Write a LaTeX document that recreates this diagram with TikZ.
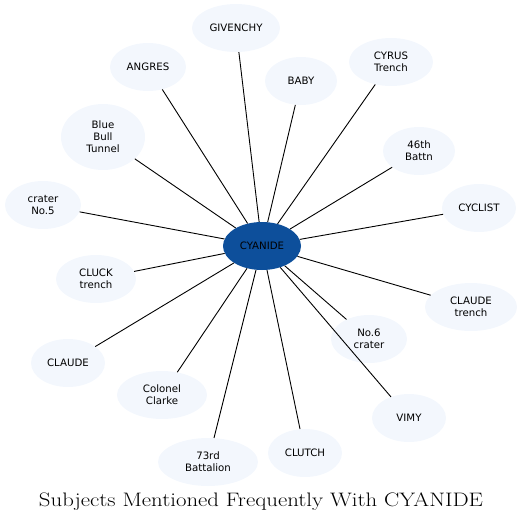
\documentclass[tikz,border=0pt]{standalone}
\usepackage{fontspec}
\setmainfont{Latin Modern Roman}
\newfontfamily\nodefont{DejaVu Sans}
\usetikzlibrary{shapes.geometric}
\definecolor{centerblue}{HTML}{0D4F9B}
\definecolor{leafblue}{HTML}{F3F7FD}
\tikzset{
  leaf/.style={ellipse, fill=leafblue, inner sep=0pt, align=center,
    font=\nodefont\fontsize{10.2}{12}\selectfont, text=black},
  hub/.style={leaf, fill=centerblue},
  link/.style={draw=black, line width=0.9pt}
}
\begin{document}
\begin{tikzpicture}[x=1pt,y=-1pt]
\useasboundingbox (0,0) rectangle (523,523);
\node[hub, minimum width=78pt, minimum height=48pt] (c) at (262,246) {CYANIDE};
\node[leaf, minimum width=88pt, minimum height=48pt] (givenchy) at (236,28) {GIVENCHY};
\node[leaf, minimum width=76pt, minimum height=48pt] (angres) at (148,67) {ANGRES};
\node[leaf, minimum width=72pt, minimum height=48pt] (baby) at (301,81) {BABY};
\node[leaf, minimum width=84pt, minimum height=48pt] (cyrus) at (391,62) {CYRUS\\Trench};
\node[leaf, minimum width=84pt, minimum height=66pt] (blue) at (103,137) {Blue\\Bull\\Tunnel};
\node[leaf, minimum width=72pt, minimum height=48pt] (b46) at (419,151) {46th\\Battn};
\node[leaf, minimum width=76pt, minimum height=48pt] (c5) at (43,205) {crater\\No.5};
\node[leaf, minimum width=74pt, minimum height=48pt] (cyclist) at (479,208) {CYCLIST};
\node[leaf, minimum width=80pt, minimum height=48pt] (cluck) at (96,279) {CLUCK\\trench};
\node[leaf, minimum width=92pt, minimum height=48pt] (claudet) at (471,307) {CLAUDE\\trench};
\node[leaf, minimum width=76pt, minimum height=48pt] (n6) at (369,339) {No.6\\crater};
\node[leaf, minimum width=74pt, minimum height=48pt] (claude) at (68,363) {CLAUDE};
\node[leaf, minimum width=90pt, minimum height=48pt] (clarke) at (162,395) {Colonel\\Clarke};
\node[leaf, minimum width=74pt, minimum height=48pt] (vimy) at (409,418) {VIMY};
\node[leaf, minimum width=74pt, minimum height=48pt] (clutch) at (305,453) {CLUTCH};
\node[leaf, minimum width=100pt, minimum height=48pt] (b73) at (208,462) {73rd\\Battalion};
\foreach \n in {givenchy,angres,baby,cyrus,blue,b46,c5,cyclist,cluck,claudet,n6,claude,clarke,vimy,clutch,b73}
  \draw[link] (c) -- (\n);
\node[font=\fontsize{19.5}{22}\selectfont, xscale=1.17] (title) at (261,502) {Subjects Mentioned Frequently With CYANIDE};
\end{tikzpicture}
\end{document}
